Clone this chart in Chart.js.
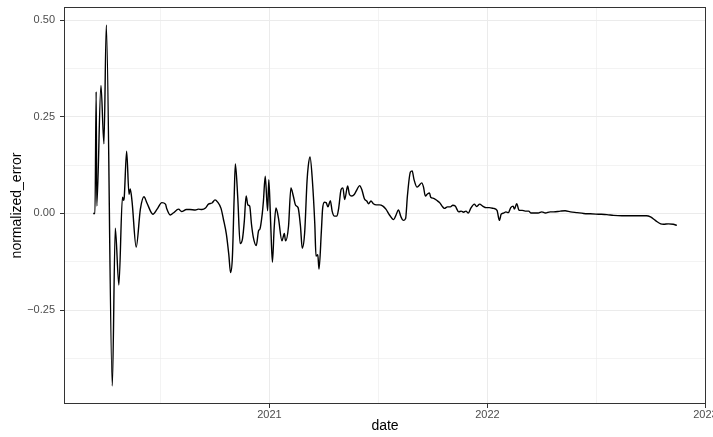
<!DOCTYPE html>
<html>
<head>
<meta charset="utf-8">
<script src="https://cdn.jsdelivr.net/npm/chart.js@4.4.0/dist/chart.umd.min.js"></script>
<style>
  html, body { margin: 0; padding: 0; background: #fff; }
  #wrap { width: 713px; height: 437px; }
</style>
</head>
<body>
<div id="wrap"><canvas id="errorChart"></canvas></div>
<script>
// series: days after startDate, and the error at that day
const startDate = '2020-03-12';
const dayOffsets = [0,3,5,6,13,18,22,32,37,43, 49,51,52,56,60,62,65,72,79,85,
  90,100,107,115,121,123,129,134,143,148, 156,162,171,176,182,188,193,199,204,208,
  214,218,223,227,230,233,236,238,242,246, 250,253,256,259,262,265,268,273,277,279,
  283,285,288,292,294,297,300,303,306,310, 316,320,322,327,331,335,339,343,347,350,
  354,358,360,363,367,371,373,376,378,382, 384,387,390,393,397,400,404,408,411,415,
  418,421,426,429,433,437,442,446,450,454, 458,461,465,469,474,479,485,490,496,503,
  507,511,515,519,523,526,531,534,537,542, 546,550,553,556,560,563,565,570,575,580,
  584,588,593,598,602,606,612,616,620,624, 628,632,638,642,647,652,658,663,670,676,
  680,683,687,691,695,699,703,705,709,713, 718,723,729,733,740,745,751,757,765,771,
  782,790,799,810,821,832,846,860,871,885, 899,916,926,933,941,950,955,963,971,977];
const normalizedError = [0.000,0.000,0.315,0.019,0.331,0.180,0.487,-0.446,-0.038,-0.185,
  0.042,0.034,0.042,0.161,0.049,0.063,0.032,-0.087,0.011,0.043,
  0.027,-0.002,0.011,0.028,0.024,0.013,-0.004,0.001,0.011,0.005,
  0.010,0.010,0.009,0.011,0.010,0.014,0.024,0.027,0.035,0.030,
  0.013,-0.015,-0.054,-0.106,-0.153,-0.114,0.041,0.128,0.041,-0.078,
  -0.065,-0.020,0.045,0.022,0.019,-0.028,-0.061,-0.083,-0.044,-0.041,
  -0.001,0.032,0.096,0.007,0.087,-0.020,-0.126,-0.037,0.014,-0.011,
  -0.071,-0.052,-0.071,-0.033,0.066,0.045,0.021,0.015,-0.033,-0.090,
  -0.050,0.084,0.122,0.146,0.084,-0.028,-0.110,-0.107,-0.144,-0.045,
  0.011,0.029,0.028,0.017,0.033,0.006,-0.007,-0.007,0.014,0.062,
  0.066,0.036,0.071,0.049,0.045,0.049,0.063,0.072,0.060,0.038,
  0.032,0.025,0.032,0.025,0.022,0.022,0.019,0.011,-0.004,-0.016,
  -0.004,0.009,-0.008,-0.018,-0.013,0.045,0.107,0.110,0.088,0.068,
  0.073,0.079,0.068,0.045,0.051,0.053,0.042,0.039,0.034,0.028,
  0.019,0.013,0.017,0.017,0.021,0.019,0.004,0.006,0.003,0.006,
  0.001,0.013,0.024,0.018,0.024,0.019,0.015,0.015,0.013,0.008,
  -0.018,-0.002,0.001,0.004,0.002,0.015,0.019,0.011,0.025,0.008,
  0.008,0.006,0.006,0.001,0.001,0.001,0.004,0.001,0.004,0.004,
  0.006,0.007,0.004,0.002,0.000,-0.001,-0.002,-0.003,-0.005,-0.006,
  -0.006,-0.006,-0.006,-0.009,-0.018,-0.027,-0.028,-0.027,-0.028,-0.031];

// axis breaks and labels
const xBreaks = ['2021-01-01', '2022-01-01', '2023-01-01'];
const xLabels = ['2021', '2022', '2023'];
const yBreaks = [-0.25, 0, 0.25, 0.5];
const yLabels = ['\u22120.25', '0.00', '0.25', '0.50'];

const DAY = 86400000;
const t0 = Date.parse(startDate);
const points = dayOffsets.map((d, i) => ({ x: t0 + d * DAY, y: normalizedError[i] }));

// ggplot-ish 5% expansion
function expand(vals) {
    const lo = Math.min(...vals), hi = Math.max(...vals);
    const pad = (hi - lo) * 0.05;
    return [lo - pad, hi + pad];
}
const [xMin, xMax] = expand(points.map(p => p.x));
const [yMin, yMax] = expand(normalizedError);

// majors + minors halfway between (and one step outside if it fits)
function withMinor(breaks, lo, hi) {
    const out = breaks.filter(v => v >= lo && v <= hi).map(v => ({ value: v, minor: false }));
    const step = breaks[1] - breaks[0];
    const mids = [breaks[0] - step / 2];
    for (let i = 1; i < breaks.length; i++) mids.push((breaks[i - 1] + breaks[i]) / 2);
    mids.push(breaks[breaks.length - 1] + step / 2);
    mids.forEach(m => { if (m >= lo && m <= hi) out.push({ value: m, minor: true }); });
    return out.sort((a, b) => a.value - b.value);
}
const xBreakMs = xBreaks.map(d => Date.parse(d));
const xTicks = withMinor(xBreakMs, xMin, xMax);
const yTicks = withMinor(yBreaks, yMin, yMax);

const panelBorder = {
    id: 'panelBorder',
    afterDatasetsDraw(chart) {
        const { ctx, chartArea: a } = chart;
        ctx.save();
        ctx.strokeStyle = '#333333';
        ctx.lineWidth = 1;
        ctx.strokeRect(a.left + 0.5, a.top + 0.5, a.right - a.left - 1, a.bottom - a.top - 1);
        ctx.restore();
    }
};

Chart.defaults.font.family = "'Liberation Sans', Arial, sans-serif";

const gridOpts = {
    color: '#ebebeb',
    lineWidth: c => (c.tick && c.tick.minor) ? 0.6 : 1,
    tickColor: c => (c.tick && c.tick.minor) ? 'rgba(0,0,0,0)' : '#333333',
    tickLength: 4,
    drawTicks: true
};

new Chart(document.getElementById('errorChart').getContext('2d'), {
    type: 'line',
    data: { datasets: [{ data: points, borderColor: '#000000', borderWidth: 1.4, pointRadius: 0, fill: false, cubicInterpolationMode: 'monotone' }] },
    options: {
        responsive: true, maintainAspectRatio: false, animation: false, devicePixelRatio: 1,
        layout: { padding: { top: 7, right: 7, left: 0, bottom: 0 } },
        plugins: { legend: { display: false }, tooltip: { enabled: false } },
        scales: {
            x: {
                type: 'linear', min: xMin, max: xMax,
                afterBuildTicks: s => { s.ticks = xTicks.map(t => ({ ...t })); },
                afterFit: s => { s.height = 33; s.paddingLeft = 0; s.paddingRight = 0; },
                grid: gridOpts, border: { display: false },
                ticks: { autoSkip: false, maxRotation: 0, padding: 0, color: '#4d4d4d', font: { size: 11 },
                    callback: (v, i, ts) => ts[i].minor ? '' : xLabels[xBreakMs.indexOf(v)] },
                title: { display: true, text: 'date', color: '#000000', font: { size: 14 }, padding: { top: 0, bottom: 2 } }
            },
            y: {
                min: yMin, max: yMax,
                afterBuildTicks: s => { s.ticks = yTicks.map(t => ({ ...t })); },
                afterFit: s => { s.width = 64; s.paddingTop = 0; s.paddingBottom = 0; },
                grid: gridOpts, border: { display: false },
                ticks: { autoSkip: false, padding: 5, color: '#4d4d4d', font: { size: 11 },
                    callback: (v, i, ts) => ts[i].minor ? '' : yLabels[yBreaks.indexOf(v)] },
                title: { display: true, text: 'normalized_error', color: '#000000', font: { size: 14 }, padding: { top: 9, bottom: 0 } }
            }
        }
    },
    plugins: [panelBorder]
});
</script>
</body>
</html>
